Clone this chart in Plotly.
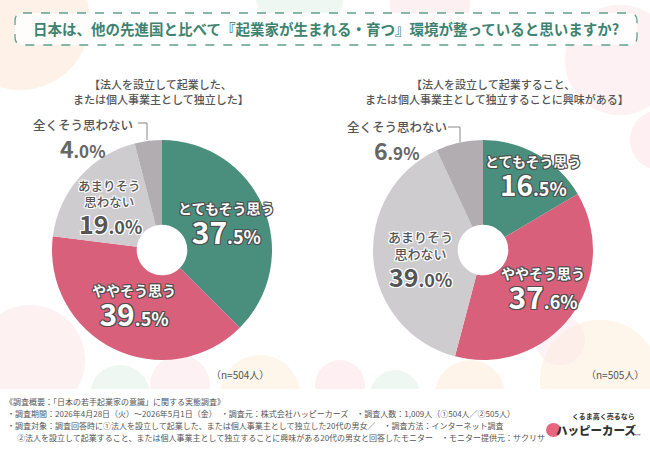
import plotly.graph_objects as go

# ---------------- data ----------------
categories = ["とてもそう思う", "ややそう思う", "あまりそう思わない", "全くそう思わない"]
founded_pct = [37.5, 39.5, 19.0, 4.0]        # 法人を設立して起業した…
interested_pct = [16.5, 37.6, 39.0, 6.9]     # 起業することに興味がある
sample_sizes = [504, 505]

title_text = "日本は、他の先進国と比べて『起業家が生まれる・育つ』環境が整っていると思いますか?"
sub_left = ["【法人を設立して起業した、", "または個人事業主として独立した】"]
sub_right = ["【法人を設立して起業すること、", "または個人事業主として独立することに興味がある】"]
footer_lines = [
    "《調査概要：「日本の若手起業家の意識」に関する実態調査》",
    "・調査期間：2026年4月28日（火）～2026年5月1日（金）　・調査元：株式会社ハッピーカーズ　・調査人数：1,009人（①504人／②505人）",
    "・調査対象：調査回答時に①法人を設立して起業した、または個人事業主として独立した20代の男女／　・調査方法：インターネット調査",
    "②法人を設立して起業すること、または個人事業主として独立することに興味がある20代の男女と回答したモニター　・モニター提供元：サクリサ",
]

colors = ["#4a8f7d", "#d9607b", "#cecccf", "#b1adb1"]

W, H = 650, 450
FONT = "Noto Sans CJK JP"


def px(x):
    return x / W


def py(y):
    return 1 - y / H


def outline(color, w=1):
    offs = []
    for dx, dy in [(w, 0), (-w, 0), (0, w), (0, -w), (w, w), (-w, -w), (w, -w), (-w, w)]:
        offs.append(f"{color} {dx}px {dy}px 0px")
    return ", ".join(offs)


fig = go.Figure()


def add_pie(vals, cx, cy, r):
    fig.add_trace(go.Pie(
        labels=categories, values=vals, sort=False, direction="clockwise", rotation=0,
        hole=0.23, marker=dict(colors=colors, line=dict(width=0)),
        textinfo="none", hoverinfo="label+percent",
        domain=dict(x=[px(cx - r), px(cx + r)], y=[py(cy + r), py(cy - r)]),
    ))


add_pie(founded_pct, 162, 250, 110)
add_pie(interested_pct, 483, 250, 110)

ann = []


def text(t, x, y, size, color="#555", weight=400, shadow=None, xanchor="center", family=FONT):
    f = dict(family=family, size=size, color=color, weight=weight)
    if shadow:
        f["shadow"] = shadow
    ann.append(dict(text=t, x=px(x), y=py(y), xref="paper", yref="paper", showarrow=False,
                    xanchor=xanchor, yanchor="middle", font=f))


def pct_html(v, big, small):
    s = f"{v:.1f}"
    a, b = s.split(".")
    return f"<span style='font-size:{big}px'>{a}</span><span style='font-size:{small}px'>.{b}%</span>"


def slice_label(label, v, lsize, big, small):
    return f"<span style='font-size:{lsize}px'>{label}</span><br>{pct_html(v, big, small)}"


DARK_OUT = outline("#4f4f4f", 1)
WHITE_OUT = outline("#ffffff", 1)

# title
text(title_text, 326, 29, 14.5, color="#3d8370", weight=700)

# subtitles
text(sub_left[0], 160, 84, 11, color="#555", weight=500)
text(sub_left[1], 161, 99, 11, color="#555", weight=500)
text(sub_right[0], 493, 84, 11, color="#555", weight=500)
text(sub_right[1], 497, 99, 11, color="#555", weight=500)

# ---- left pie labels ----
text(slice_label(categories[0], founded_pct[0], 14, 30, 18), 226, 225, 23,
     color="#ffffff", weight=700, shadow=DARK_OUT)
text(slice_label(categories[1], founded_pct[1], 14, 30, 18), 134, 307, 23,
     color="#ffffff", weight=700, shadow=DARK_OUT)
text(categories[2][:5] + "<br>" + categories[2][5:], 109, 193, 12.5, color="#555", weight=500, shadow=WHITE_OUT)
text(pct_html(founded_pct[2], 25, 18), 110, 223, 25, color="#555", weight=700, shadow=WHITE_OUT)
text(categories[3], 83, 124, 12.5, color="#555", weight=500)
text(pct_html(founded_pct[3], 23, 17), 83, 148, 23, color="#666", weight=700)
text(f"（n={sample_sizes[0]}人）", 240, 374, 10, color="#555")

# ---- right pie labels ----
text(slice_label(categories[0], interested_pct[0], 14, 28, 18), 533, 177, 22,
     color="#ffffff", weight=700, shadow=DARK_OUT)
text(slice_label(categories[1], interested_pct[1], 14, 30, 18), 543, 290, 23,
     color="#ffffff", weight=700, shadow=DARK_OUT)
text(categories[2][:5] + "<br>" + categories[2][5:], 420, 245, 13, color="#555", weight=500, shadow=WHITE_OUT)
text(pct_html(interested_pct[2], 25, 18), 420, 276, 25, color="#555", weight=700, shadow=WHITE_OUT)
text(categories[3], 397, 127, 12.5, color="#555", weight=500)
text(pct_html(interested_pct[3], 23, 17), 397, 150, 23, color="#666", weight=700)
text(f"（n={sample_sizes[1]}人）", 615, 374, 10, color="#555")

# footer
text(footer_lines[0], 3, 401, 8, color="#555", xanchor="left")
text(footer_lines[1], 5, 413, 8, color="#555", xanchor="left")
text(footer_lines[2], 5, 425, 8, color="#555", xanchor="left")
text(footer_lines[3], 15, 437, 8, color="#555", xanchor="left")

# logo
text("くるま高く売るなら", 603, 416, 7, color="#333", weight=700)
text("ハッピーカーズ", 596, 430, 11.5, color="#333", weight=900)
text("•••", 638, 433, 5, color="#e0607a", weight=700)

shapes = []
# background pastel blobs
blobs = [
    (20, 20, 70, "#fde3cf"), (300, -10, 45, "#dff0e6"), (430, 5, 40, "#fbe1e6"),
    (620, 60, 55, "#fbe3e8"), (660, 140, 30, "#fbe0e6"),
    (30, 360, 55, "#fbe3e6"), (120, 395, 30, "#dff0e6"), (180, 385, 30, "#fbe4e8"),
    (260, 395, 40, "#fdecd8"), (340, 385, 25, "#fbe0e6"), (395, 395, 25, "#dff0e6"),
    (470, 395, 35, "#fde9d6"), (600, 380, 60, "#fdecd8"), (560, 340, 25, "#fbe7ea"),
]
for (cx, cy, r, c) in blobs:
    shapes.append(dict(type="circle", xref="paper", yref="paper", layer="below",
                       x0=px(cx - r), x1=px(cx + r), y0=py(cy + r), y1=py(cy - r),
                       fillcolor=c, line=dict(width=0), opacity=0.5))
# white footer panel
shapes.append(dict(type="rect", xref="paper", yref="paper", layer="below",
                   x0=0, x1=1, y0=0, y1=py(389), fillcolor="#ffffff", line=dict(width=0)))

# title dashed rounded box
x0, x1, y0, y1, rr = 15, 637, 13, 45, 8
path = (f"M {px(x0 + rr)} {py(y0)} L {px(x1 - rr)} {py(y0)} Q {px(x1)} {py(y0)} {px(x1)} {py(y0 + rr)} "
        f"L {px(x1)} {py(y1 - rr)} Q {px(x1)} {py(y1)} {px(x1 - rr)} {py(y1)} "
        f"L {px(x0 + rr)} {py(y1)} Q {px(x0)} {py(y1)} {px(x0)} {py(y1 - rr)} "
        f"L {px(x0)} {py(y0 + rr)} Q {px(x0)} {py(y0)} {px(x0 + rr)} {py(y0)} Z")
shapes.append(dict(type="path", xref="paper", yref="paper", path=path,
                   fillcolor="rgba(255,255,255,0.85)", line=dict(color="#5fa08c", width=1.3, dash="dash"),
                   layer="below"))

# leader lines
for (ax, ay, bx, by) in [(138, 123, 147, 140), (448, 127, 460, 142)]:
    shapes.append(dict(type="path", xref="paper", yref="paper",
                       path=f"M {px(ax)} {py(ay)} L {px(bx)} {py(ay)} L {px(bx)} {py(by)}",
                       line=dict(color="#888", width=1)))

# logo icon
shapes.append(dict(type="circle", xref="paper", yref="paper",
                   x0=px(546), x1=px(561), y0=py(437), y1=py(423),
                   fillcolor="#e5687f", line=dict(width=0)))

fig.update_layout(
    width=W, height=H, margin=dict(l=0, r=0, t=0, b=0),
    paper_bgcolor="#ffffff", plot_bgcolor="#ffffff",
    showlegend=False, annotations=ann, shapes=shapes,
    font=dict(family=FONT),
)

fig.write_html("out.html")
